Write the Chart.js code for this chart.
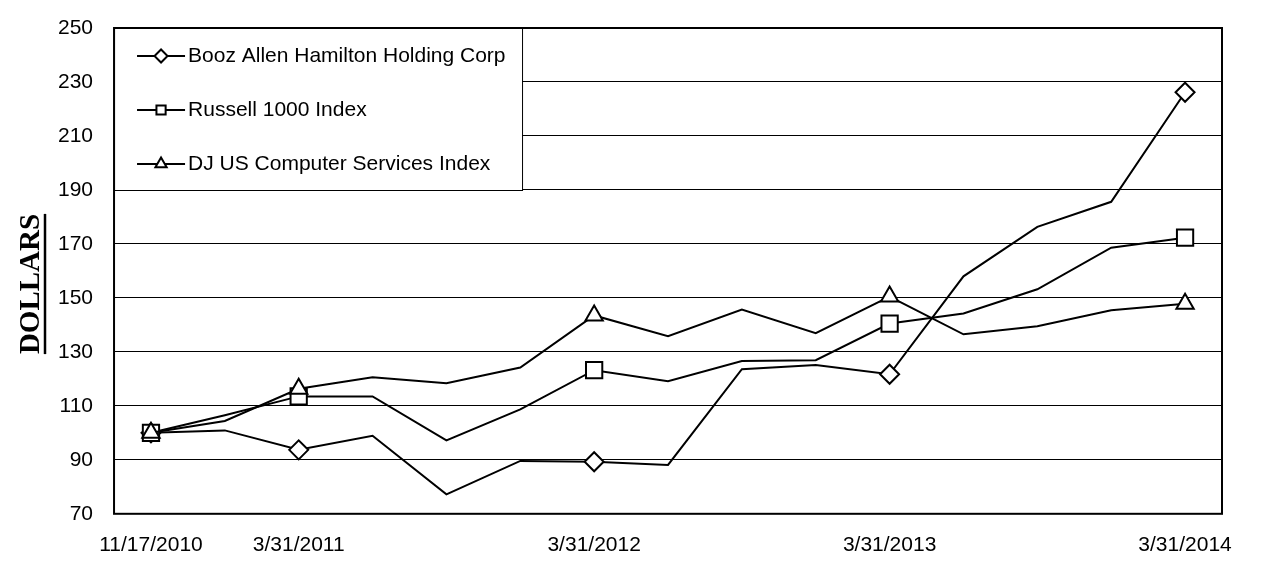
<!DOCTYPE html>
<html><head><meta charset="utf-8">
<script src="https://cdn.jsdelivr.net/npm/chart.js@4"></script>
<style>html,body{margin:0;padding:0;background:#fff}#wrap{width:1264px;height:569px;position:relative}</style>
</head><body><div id="wrap"><canvas id="c" width="1264" height="569"></canvas></div>
<script>
const categories = ['11/17/2010','12/31/2010','3/31/2011','6/30/2011','9/30/2011','12/31/2011','3/31/2012','6/30/2012','9/30/2012','12/31/2012','3/31/2013','6/30/2013','9/30/2013','12/31/2013','3/31/2014'];
const tickLabels = ['11/17/2010','3/31/2011','3/31/2012','3/31/2013','3/31/2014'];
const seriesNames = ['Booz Allen Hamilton Holding Corp','Russell 1000 Index','DJ US Computer Services Index'];
const boozAllen   = [100,100.9,93.7,98.9,77.2,89.6,89.3,88.1,123.6,125.1,121.7,158.0,176.3,185.6,226.2];
const russell1000 = [100,106.5,113.5,113.5,97.2,108.7,123.2,119.1,126.6,126.9,140.5,144.2,153.2,168.6,172.3];
const djComputer  = [100,104.4,116.3,120.6,118.4,124.2,143.5,135.8,145.7,136.9,150.5,136.5,139.5,145.4,147.8];
const yMin = 70, yMax = 250, yStep = 20;
const yTitle = 'DOLLARS';

const FONT = '"Liberation Sans", Arial, sans-serif';
const markerStyles = ['rectRot','rect','triangle'];
const markerRadii = [9.5, 11.5, 10];

function drawMarker(ctx, style, x, y, r) {
  ctx.beginPath();
  if (style === 'rectRot') {
    ctx.moveTo(x - r, y); ctx.lineTo(x, y - r); ctx.lineTo(x + r, y); ctx.lineTo(x, y + r);
  } else if (style === 'rect') {
    const s = Math.SQRT1_2 * r;
    ctx.rect(x - s, y - s, 2 * s, 2 * s);
  } else {
    for (let i = 0; i < 3; i++) {
      const a = i * 2 * Math.PI / 3;
      const px = x + Math.sin(a) * r, py = y - Math.cos(a) * r;
      if (i === 0) ctx.moveTo(px, py); else ctx.lineTo(px, py);
    }
  }
  ctx.closePath();
  ctx.fillStyle = '#fff'; ctx.fill();
  ctx.strokeStyle = '#000'; ctx.lineWidth = 2; ctx.stroke();
}

const decorPlugin = {
  id: 'decor',
  afterDraw(chart) {
    const ctx = chart.ctx, a = chart.chartArea;
    ctx.save();
    // legend box
    const lw = 408, lh = 162;
    ctx.fillStyle = '#fff';
    ctx.fillRect(a.left, a.top, lw, lh);
    ctx.strokeStyle = '#000'; ctx.lineWidth = 1;
    ctx.strokeRect(a.left + 0.5, a.top + 0.5, lw, lh);
    chart.data.datasets.forEach((ds, i) => {
      const cy = a.top + 28 + i * 54;
      const x0 = a.left + 23, x1 = a.left + 71;
      ctx.beginPath(); ctx.moveTo(x0, cy); ctx.lineTo(x1, cy);
      ctx.strokeStyle = '#000'; ctx.lineWidth = 2; ctx.stroke();
      drawMarker(ctx, markerStyles[i], (x0 + x1) / 2, cy, 6.5);
      ctx.fillStyle = '#000';
      ctx.font = '21px ' + FONT;
      ctx.textAlign = 'left'; ctx.textBaseline = 'middle';
      ctx.fillText(ds.label, x1 + 3, cy);
    });
    // frame
    ctx.strokeStyle = '#000'; ctx.lineWidth = 2;
    ctx.strokeRect(a.left, a.top, a.right - a.left, a.bottom - a.top);
    // y title with underline
    ctx.translate(39, 284);
    ctx.rotate(-Math.PI / 2);
    ctx.font = 'bold 29px "Liberation Serif", "Times New Roman", serif';
    ctx.textAlign = 'center'; ctx.textBaseline = 'alphabetic';
    ctx.fillStyle = '#000';
    ctx.fillText(yTitle, 0, 0);
    const w = ctx.measureText(yTitle).width;
    ctx.beginPath(); ctx.moveTo(-w / 2, 6); ctx.lineTo(w / 2, 6);
    ctx.lineWidth = 2.5; ctx.stroke();
    ctx.restore();
  }
};

const seriesData = [boozAllen, russell1000, djComputer];
new Chart(document.getElementById('c'), {
  type: 'line',
  data: {
    labels: categories,
    datasets: seriesData.map((d, i) => ({
      label: seriesNames[i],
      data: d,
      order: 3 - i,
      borderColor: '#000',
      borderWidth: 2,
      tension: 0,
      pointStyle: markerStyles[i],
      pointRadius: c => tickLabels.includes(categories[c.dataIndex]) ? markerRadii[i] : 0,
      pointHoverRadius: 0,
      pointBackgroundColor: '#fff',
      pointBorderColor: '#000',
      pointBorderWidth: 2
    }))
  },
  options: {
    responsive: false,
    animation: false,
    devicePixelRatio: 1,
    layout: { padding: { left: 37, right: 42, top: 28, bottom: -8 } },
    plugins: { legend: { display: false }, tooltip: { enabled: false } },
    scales: {
      x: {
        offset: true,
        grid: { display: false, drawTicks: false },
        border: { display: false },
        ticks: {
          autoSkip: false, maxRotation: 0, padding: 19,
          color: '#000', font: { size: 21, family: FONT },
          callback: (v, i) => tickLabels.includes(categories[i]) ? categories[i] : ''
        }
      },
      y: {
        min: yMin, max: yMax,
        grid: { color: '#000', lineWidth: 1, drawTicks: false },
        border: { display: false },
        ticks: { stepSize: yStep, padding: 21, color: '#000', font: { size: 21, family: FONT, lineHeight: 0.5 } }
      }
    }
  },
  plugins: [decorPlugin]
});
</script>
</body></html>
